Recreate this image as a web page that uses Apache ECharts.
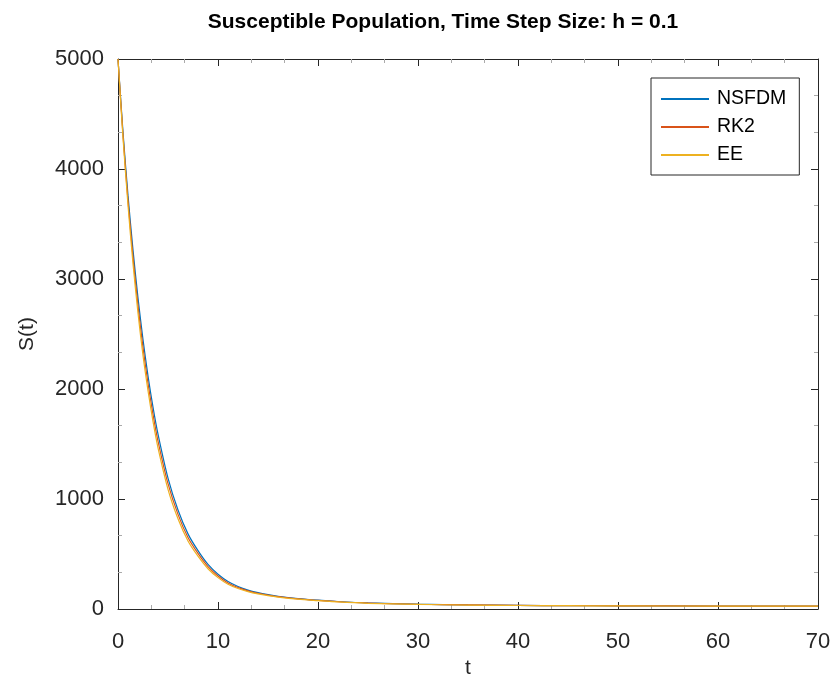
<!DOCTYPE html>
<html>
<head>
<meta charset="utf-8">
<script src="https://cdn.jsdelivr.net/npm/echarts@6/dist/echarts.min.js"></script>
<style>
  html, body { margin: 0; padding: 0; background: #fff; }
  #chart { width: 834px; height: 679px; }
</style>
</head>
<body>
<div id="chart"></div>
<script>
const chart = echarts.init(document.getElementById("chart"));

// time points and S(t)
const tVals = [0, 0.5, 1, 1.5, 2, 2.5, 3, 3.5, 4, 5, 6, 7, 8, 9, 10, 11, 12, 13, 14, 15, 16, 18, 20, 22, 25, 30, 35, 40, 45, 50, 60, 70];
const nsfdm = [5000, 4335, 3760, 3265, 2830, 2450, 2120, 1835, 1590, 1190, 900, 683, 530, 405, 316, 250, 205, 172, 149, 131, 116, 95, 80, 68, 55, 44, 37, 33, 30, 29, 27, 26];
const rk2 = [5000, 4309, 3712, 3201, 2758, 2377, 2052, 1770, 1527, 1139, 860, 650, 505, 385, 300, 237, 195, 165, 143, 126, 112, 92, 78, 66, 54, 43, 37, 33, 30, 29, 27, 26];
const ee = [5000, 4285, 3670, 3140, 2690, 2305, 1985, 1705, 1465, 1088, 820, 618, 480, 366, 285, 225, 186, 158, 137, 121, 108, 89, 76, 64, 52, 42, 36, 32, 30, 28, 27, 26];

const seriesNames = ["NSFDM", "RK2", "EE"];
const seriesColors = ["#0072BD", "#D95319", "#EDB120"];
const seriesData = [nsfdm, rk2, ee];

const font = "'Liberation Sans', Arial, Helvetica, sans-serif";
const axisColor = "#262626";

function pairs(vals) {
	return tVals.map((t, i) => [t, vals[i]]);
}

const baseAxis = {
	axisLine: { show: true, onZero: false, lineStyle: { color: axisColor, width: 1 } },
	axisTick: { show: true, inside: true, length: 7, lineStyle: { color: axisColor } },
	minorTick: { show: true, splitNumber: 3, length: 4, lineStyle: { color: "#aaa" } },
	splitLine: { show: false },
	axisLabel: { color: axisColor, fontSize: 22, fontFamily: font, formatter: v => String(v) }
};

const option = {
	animation: false,
	backgroundColor: "#fff",
	title: {
		text: "Susceptible Population, Time Step Size: h = 0.1",
		left: 438,
		textAlign: "center",
		top: 7,
		textStyle: { fontSize: 21, fontWeight: "bold", color: "#000", fontFamily: font }
	},
	legend: {
		orient: "vertical",
		left: 651,
		top: 78,
		padding: [11, 13, 10, 10],
		itemGap: 8,
		itemWidth: 48,
		itemHeight: 2,
		icon: "rect",
		borderColor: axisColor,
		borderWidth: 1,
		borderRadius: 0,
		backgroundColor: "#fff",
		textStyle: { fontSize: 19.5, color: "#000", fontFamily: font, padding: [0, 0, 0, 3] },
		data: seriesNames
	},
	grid: { left: 118, right: 16, top: 59, bottom: 70, containLabel: false, outerBoundsMode: "none" },
	xAxis: [
		Object.assign({}, baseAxis, {
			type: "value", min: 0, max: 70, interval: 10,
			name: "t", nameLocation: "middle", nameGap: 47,
			nameTextStyle: { fontSize: 21, color: axisColor, fontFamily: font },
			axisLabel: Object.assign({}, baseAxis.axisLabel, { margin: 22 })
		}),
		Object.assign({}, baseAxis, {
			type: "value", min: 0, max: 70, interval: 10, position: "top",
			axisLabel: { show: false }
		})
	],
	yAxis: [
		Object.assign({}, baseAxis, {
			type: "value", min: 0, max: 5000, interval: 1000,
			name: "S(t)", nameLocation: "middle", nameGap: 80,
			nameTextStyle: { fontSize: 21, color: axisColor, fontFamily: font },
			axisLabel: Object.assign({}, baseAxis.axisLabel, { margin: 14 })
		}),
		Object.assign({}, baseAxis, {
			type: "value", min: 0, max: 5000, interval: 1000, position: "right",
			axisLabel: { show: false }
		})
	],
	series: seriesNames.map((name, i) => ({
		name: name,
		type: "line",
		data: pairs(seriesData[i]),
		showSymbol: false,
		symbol: "none",
		smooth: 0.3,
		color: seriesColors[i],
		lineStyle: { width: 1.2, color: seriesColors[i] }
	}))
};

chart.setOption(option);
window.onresize = chart.resize;
</script>
</body>
</html>
